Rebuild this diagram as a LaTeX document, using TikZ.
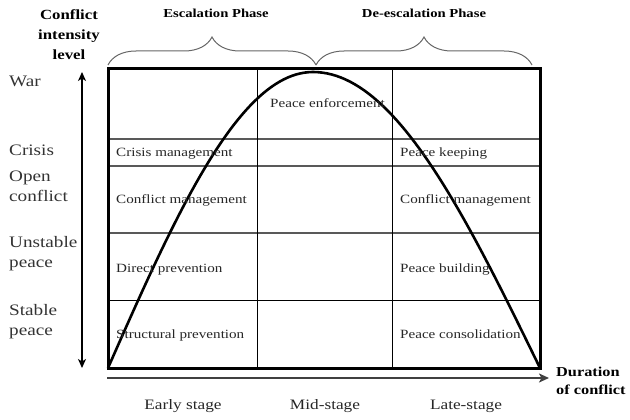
\documentclass[tikz,border=0pt]{standalone}
\usepackage{fontspec}
\setmainfont{Liberation Serif}[FakeStretch=1.2]
\usetikzlibrary{arrows.meta,decorations.pathreplacing}
\begin{document}
\begin{tikzpicture}[x=1pt,y=-1pt,
  celltext/.style={anchor=base west,inner sep=0pt,font=\fontsize{12.6}{13}\selectfont,text=black!85},
  leveltext/.style={anchor=base west,inner sep=0pt,align=left,font=\fontsize{16}{19.5}\selectfont,text=black!80},
  stagetext/.style={anchor=base,inner sep=0pt,font=\fontsize{14.4}{15}\selectfont,text=black!85},
  headtext/.style={inner sep=0pt,align=center,font=\bfseries\fontsize{12.2}{18.5}\selectfont},
  bracestyle/.style={draw=black!60,line width=1pt,decorate,decoration={brace,amplitude=28pt}},
  hline/.style={draw=black!65,line width=1.3pt},
  vline/.style={draw=black,line width=0.9pt}]
\useasboundingbox (0,0) rectangle (630,420);
% grid lines
\draw[hline] (108,139) -- (540,139);
\draw[hline] (108,166) -- (540,166);
\draw[hline] (108,233) -- (540,233);
\draw[vline] (108,300) -- (540,300);
\draw[vline] (257,69) -- (257,368);
\draw[vline] (392,69) -- (392,368);
% frame
\draw[line width=3pt] (108,69) rectangle (540,368);
% curve
\draw[line width=2.6pt,line join=round] plot[variable=\t,domain=0:1,samples=50] ({108+205*\t},{368-296*sin(90*\t)})
  -- plot[variable=\t,domain=1:0,samples=50] ({540-227*\t},{368-296*sin(90*\t)});
% axes
\coordinate (ytop) at (82,72);
\coordinate (ybot) at (82,368);
\draw[line width=1.4pt,{Stealth[length=9pt,width=8pt,inset=2.5pt]}-{Stealth[length=9pt,width=8pt,inset=2.5pt]}] (ytop) -- (ybot);
\coordinate (xleft) at (107,378);
\coordinate (xright) at (549,378);
\draw[line width=2pt,draw=black!75,-{Stealth[length=10pt,width=9pt,inset=2.5pt,fill=black]}] (xleft) -- (xright);
% braces
\draw[bracestyle] (108,65) -- (316,65);
\draw[bracestyle] (316,65) -- (532,65);
% headings
\node[headtext] (esc) at (216,13) {Escalation Phase};
\node[headtext] (desc) at (424,13) {De-escalation Phase};
\node[headtext,font=\bfseries\fontsize{14}{20}\selectfont] (ylab) at (69,35) {Conflict\\intensity\\level};
\node[headtext,anchor=west,align=left,font=\bfseries\fontsize{13.6}{18}\selectfont] (xlab) at (556,381) {Duration\\of conflict};
% level labels
\node[leveltext] (war) at (9,87) {War};
\node[leveltext] (crisis) at (9,156) {Crisis};
\node[leveltext] (open) at (9,201) {Open\\conflict};
\node[leveltext] (unstable) at (9,267) {Unstable\\peace};
\node[leveltext] (stable) at (9,335) {Stable\\peace};
% cell labels
\node[celltext] (enf) at (270,107) {Peace enforcement};
\node[celltext] (crm) at (116,157) {Crisis management};
\node[celltext] (cml) at (116,204) {Conflict management};
\node[celltext] (dpr) at (116,272) {Direct prevention};
\node[celltext] (spr) at (116,338) {Structural prevention};
\node[celltext] (pkp) at (400,157) {Peace keeping};
\node[celltext] (cmr) at (400,204) {Conflict management};
\node[celltext] (pbd) at (400,272) {Peace building};
\node[celltext] (pcs) at (400,338) {Peace consolidation};
% stages
\node[stagetext] (early) at (183,409) {Early stage};
\node[stagetext] (mid) at (325,409) {Mid-stage};
\node[stagetext] (late) at (466,409) {Late-stage};
\end{tikzpicture}
\end{document}
